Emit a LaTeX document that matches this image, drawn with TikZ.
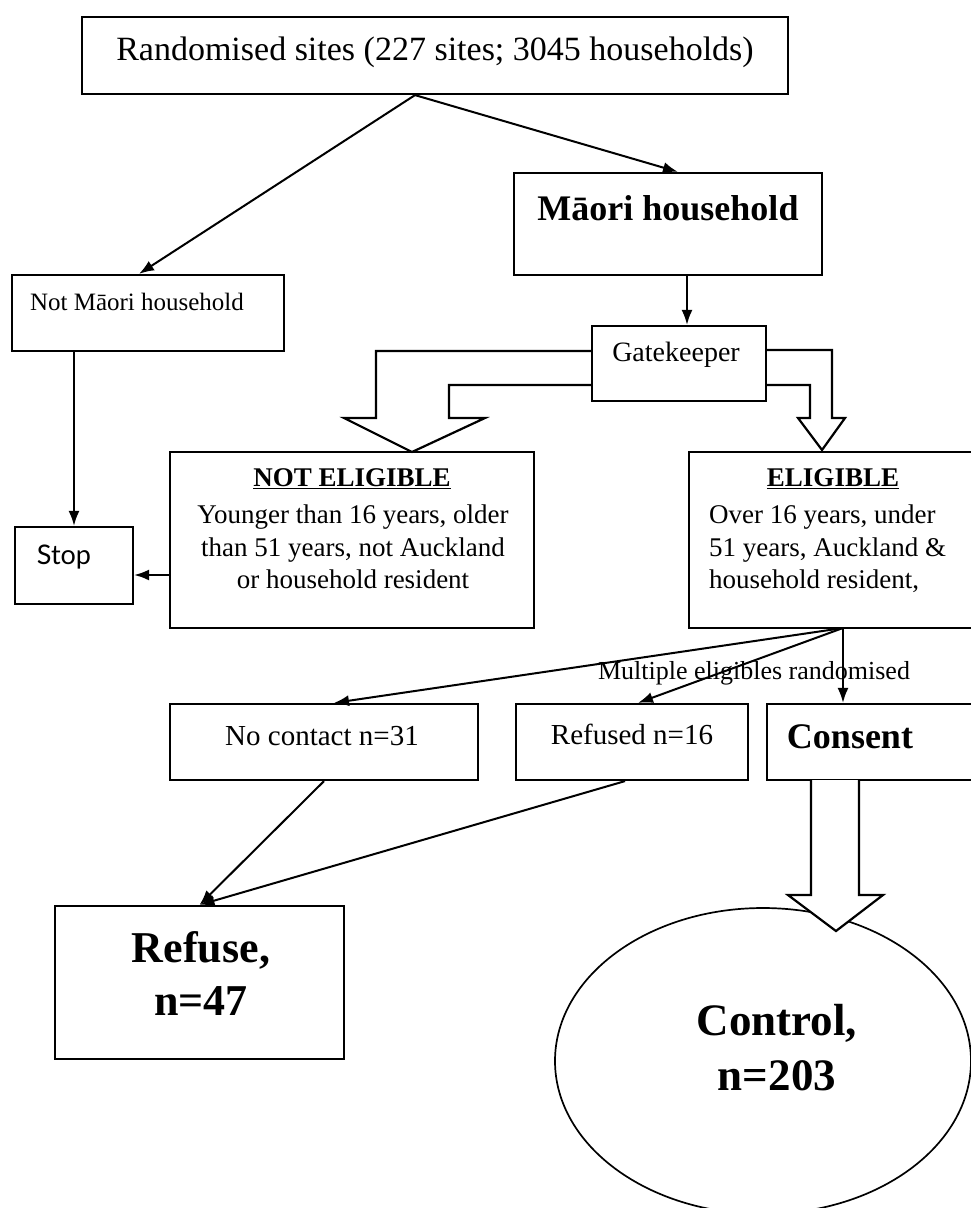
\documentclass[tikz,border=0pt]{standalone}
\usepackage{fontspec}
\setmainfont{Liberation Serif}
\newfontfamily\stopfont{Lato}
\usetikzlibrary{arrows.meta,shapes.geometric}
\tikzstyle{box} = [draw=black, line width=2.2pt, rectangle, inner sep=0pt]
\tikzstyle{txt} = [inner sep=0pt]
\tikzstyle{arr} = [draw=black, line width=2pt, -{Latex[length=15pt,width=11pt]}]
\tikzstyle{hollow} = [draw=black, line width=2.2pt, line join=miter]

\begin{document}
\begin{tikzpicture}[x=1pt,y=-1pt]
    \useasboundingbox[fill=white] (0,0) rectangle (971,1208);
    % boxes
    \node[box,minimum width=706pt,minimum height=77pt](sites) at (435,55.5){};
    \node[box,minimum width=308pt,minimum height=102pt](maori) at (668,224){};
    \node[box,minimum width=272pt,minimum height=76pt](notmaori) at (148,313){};
    \node[box,minimum width=174pt,minimum height=75pt](gate) at (679,363.5){};
    \node[box,minimum width=364pt,minimum height=176pt](notelig) at (352,540){};
    \node[box,minimum width=286pt,minimum height=176pt](elig) at (832,540){};
    \node[box,minimum width=118pt,minimum height=77pt](stop) at (74,565.5){};
    \node[box,minimum width=308pt,minimum height=76pt](nocontact) at (324,742){};
    \node[box,minimum width=232pt,minimum height=76pt](refused) at (632,742){};
    \node[box,minimum width=208pt,minimum height=76pt](consent) at (871,742){};
    \node[box,minimum width=289pt,minimum height=153pt](refuse) at (199.5,982.5){};
    \node[draw=black,line width=1.7pt,ellipse,inner sep=0pt,minimum width=416pt,minimum height=306pt](control) at (763,1061){};
    % texts
    \node[txt,font=\fontsize{34}{40}\selectfont](sitestxt) at (435,52){Randomised sites (227 sites; 3045 households)};
    \node[txt,font=\fontsize{36}{43}\selectfont\bfseries](maoritxt) at (668,208){Māori household};
    \node[txt,font=\fontsize{25}{30}\selectfont](notmaoritxt) at (137,302){Not Māori household};
    \node[txt,font=\fontsize{28}{34}\selectfont](gatetxt) at (676,355){Gatekeeper};
    \node[txt,font=\fontsize{27}{32.5}\selectfont\bfseries](noteligtitle) at (352,479){\underline{NOT ELIGIBLE}};
    \node[txt,font=\fontsize{27}{32.5}\selectfont,align=center,anchor=north](noteligtxt) at (353,505){Younger than 16 years, older\\than 51 years, not Auckland\\or household resident};
    \node[txt,font=\fontsize{27}{32.5}\selectfont\bfseries](eligtitle) at (833,479){\underline{ELIGIBLE}};
    \node[txt,font=\fontsize{27}{32.5}\selectfont,align=left,anchor=north west](eligtxt) at (709,505){Over 16 years, under\\51 years, Auckland \&\\household resident,};
    \node[txt,font=\fontsize{27}{32}\stopfont](stoptxt) at (64,557){Stop};
    \node[txt,font=\fontsize{26}{31}\selectfont](multi) at (754,673){Multiple eligibles randomised};
    \node[txt,font=\fontsize{29}{35}\selectfont](nocontacttxt) at (322,736){No contact n=31};
    \node[txt,font=\fontsize{29}{35}\selectfont](refusedtxt) at (632,734){Refused n=16};
    \node[txt,font=\fontsize{36}{43}\selectfont\bfseries](consenttxt) at (850,737){Consent};
    \node[txt,font=\fontsize{44}{53}\selectfont\bfseries,align=center,anchor=north](refusetxt) at (201,931){Refuse,\\n=47};
    \node[txt,font=\fontsize{45}{55}\selectfont\bfseries,align=center,anchor=north](controltxt) at (777,1004){Control,\\n=203};
    % arrows
    \coordinate(split) at (843,628);
    \draw[arr]([xshift=-20pt]sites.south)--([xshift=-9pt]notmaori.north);
    \draw[arr]([xshift=-20pt]sites.south)--([xshift=10pt]maori.north);
    \draw[arr]([xshift=8pt]gate.north |- maori.south)--([xshift=8pt]gate.north);
    \draw[arr](stop.north |- notmaori.south)--(stop.north);
    \draw[arr]([yshift=-35pt]notelig.west)--([yshift=-35pt]notelig.west -| stop.east);
    \draw[arr](split)--([xshift=10pt]nocontact.north);
    \draw[arr](split)--([xshift=6pt]refused.north);
    \draw[arr](split)--(split |- consent.north);
    \draw[arr](nocontact.south)--(refuse.north);
    \draw[arr]([xshift=-7pt]refused.south)--(refuse.north);
    % hollow arrows
    \draw[hollow](592,351)--(376,351)--(376,418)--(344,418)--(412,452)--(485,418)--(449,418)--(449,385)--(592,385);
    \draw[hollow](766,350)--(832,350)--(832,418)--(845,418)--(822,450)--(798,418)--(810,418)--(810,385)--(766,385);
    \draw[hollow,fill=white](811,780)--(811,895)--(788,895)--(836,931)--(883,895)--(859,895)--(859,780);
\end{tikzpicture}
\end{document}
